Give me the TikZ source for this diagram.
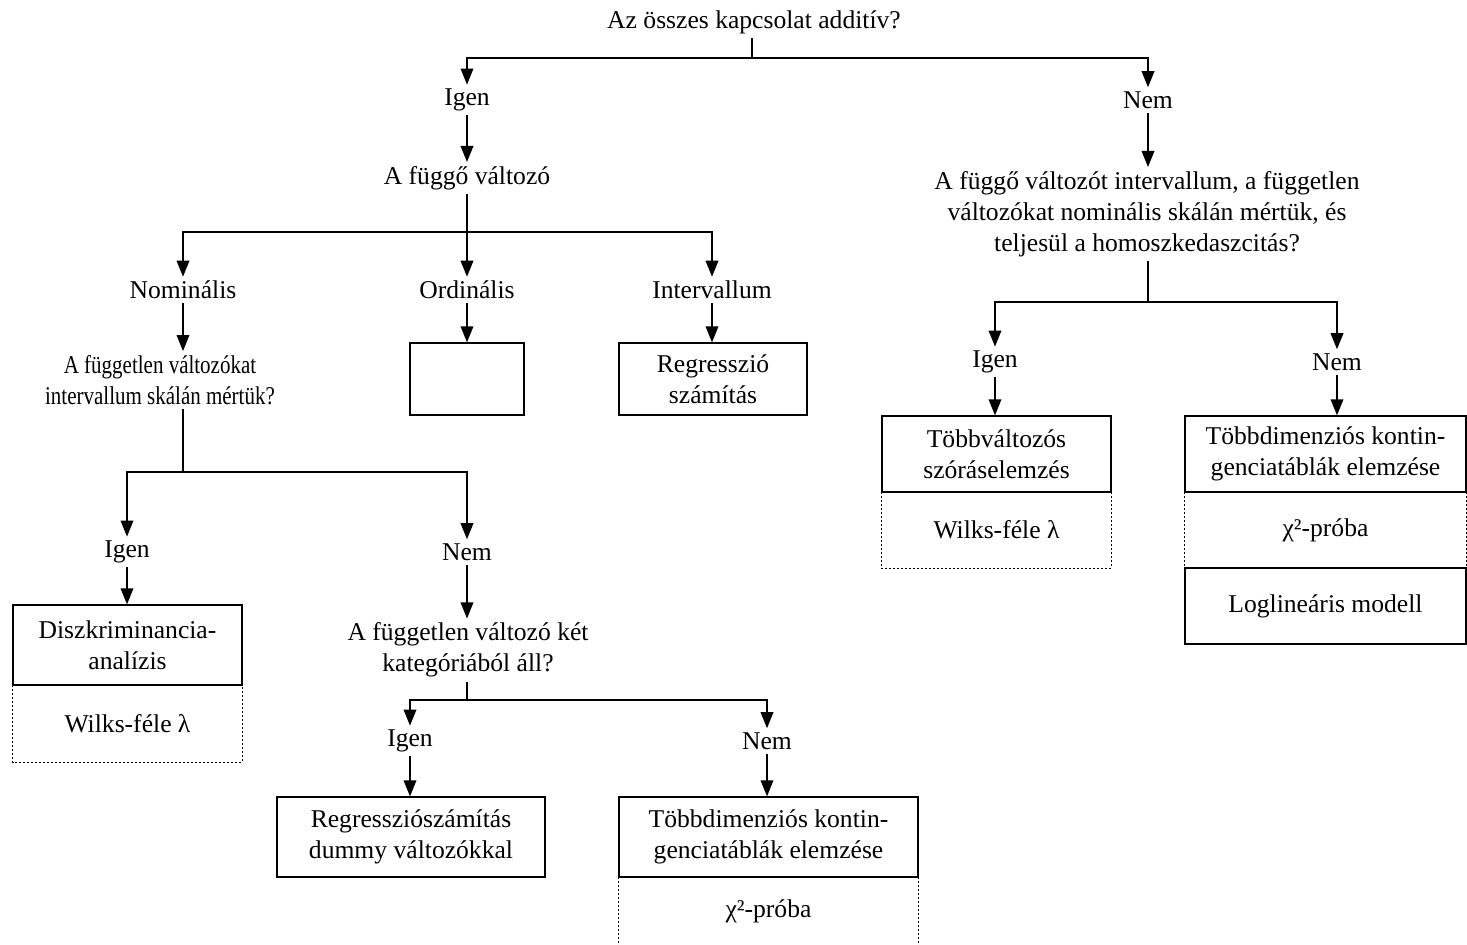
\documentclass[tikz,border=0pt]{standalone}
\usepackage{fontspec}
\setmainfont{Liberation Serif}
\usetikzlibrary{arrows.meta}
\begin{document}
\begin{tikzpicture}[x=0.75pt,y=-0.75pt,
  every node/.style={font=\fontsize{19.2pt}{23.25pt}\selectfont, align=center, inner sep=3pt},
  lbl/.style={},
  box/.style={draw, line width=1pt, minimum width=#1*0.75pt, inner sep=0pt},
  cell/.style={minimum width=#1*0.75pt, inner sep=0pt},
  conn/.style={line width=1pt},
  arr/.style={line width=1pt, -{Triangle[width=9.5pt,length=12pt]}},
  dots/.style={line width=0.9pt, dash pattern=on 1.4pt off 1.6pt}]
\useasboundingbox (0,0) rectangle (1467,945);

% --- junction points of the branching lines
\coordinate (j0) at (752,58);
\coordinate (j1) at (467,232);
\coordinate (j2) at (183,472);
\coordinate (j3) at (467,700);
\coordinate (j4) at (1148,302);

% --- questions and answers
\node[lbl] (q0)    at (754,22)  {Az összes kapcsolat additív?};
\node[lbl] (igen1) at (467,100) {Igen};
\node[lbl] (nem1)  at (1148,100) {Nem};
\node[lbl] (fv)    at (467,178) {A függő változó};
\node[lbl] (nom)   at (183,290) {Nominális};
\node[lbl] (ordl)  at (467,290) {Ordinális};
\node[lbl] (intv)  at (712,290) {Intervallum};
\node[lbl] (q1)    at (160,380) {\scalebox{0.82}[1]{A független változókat}\\\scalebox{0.82}[1]{intervallum skálán mértük?}};
\node[lbl] (igen2) at (127,552) {Igen};
\node[lbl] (nem2)  at (467,552) {Nem};
\node[lbl] (q2)    at (468,650) {A független változó két\\kategóriából áll?};
\node[lbl] (igen3) at (410,741) {Igen};
\node[lbl] (nem3)  at (767,741) {Nem};
\node[lbl] (q3)    at (1147,214) {A függő változót intervallum, a független\\változókat nominális skálán mértük, és\\teljesül a homoszkedaszcitás?};
\node[lbl] (igen4) at (995,362) {Igen};
\node[lbl] (nem4)  at (1337,362) {Nem};

% --- result boxes (dotted cells first, solid boxes on top)
\node[cell=229, minimum height=77*0.75pt] (wilks1) at (127.5,723.5) {Wilks-féle λ};
\node[cell=299, minimum height=68*0.75pt] (chi1) at (768.5,911) {χ²-próba};
\node[cell=229, minimum height=76*0.75pt] (wilks2) at (996.5,530) {Wilks-féle λ};
\node[cell=281, minimum height=76*0.75pt] (chi2) at (1325.5,530) {χ²-próba};

\draw[dots] (wilks1.north west) -- (wilks1.south west) -- (wilks1.south east) -- (wilks1.north east);
\draw[dots] (chi1.north west) -- ++(0,80);
\draw[dots] (chi1.north east) -- ++(0,80);
\draw[dots] (wilks2.north west) -- (wilks2.south west) -- (wilks2.south east) -- (wilks2.north east);
\draw[dots] (chi2.north west) -- (chi2.south west);
\draw[dots] (chi2.north east) -- (chi2.south east);

\node[box=114, minimum height=72*0.75pt] (ordbox) at (467,379) {};
\node[box=188, minimum height=72*0.75pt] (regr) at (713,379) {Regresszió\\számítás};
\node[box=229, minimum height=80*0.75pt] (disk) at (127.5,645) {Diszkriminancia-\\analízis};
\node[box=268, minimum height=80*0.75pt] (dummy) at (411,837) {Regressziószámítás\\dummy változókkal};
\node[box=299, minimum height=80*0.75pt] (tobbd1) at (768.5,837) {Többdimenziós kontin-\\genciatáblák elemzése};
\node[box=229, minimum height=76*0.75pt] (tobbv) at (996.5,454) {Többváltozós\\szóráselemzés};
\node[box=281, minimum height=76*0.75pt] (tobbd2) at (1325.5,454) {Többdimenziós kontin-\\genciatáblák elemzése};
\node[box=281, minimum height=76*0.75pt] (logl) at (1325.5,606) {Loglineáris modell};

% --- connectors
\draw[conn] (q0.south -| j0) -- (j0);
\draw[arr] (j0) -| (igen1.north);
\draw[arr] (j0) -| (nem1.north);
\draw[arr] (igen1.south) -- (fv.north);
\draw[arr] (fv.south) -- (ordl.north);
\draw[arr] (j1) -| (nom.north);
\draw[arr] (j1) -| (intv.north);
\draw[arr] (nom.south) -- (nom.south |- q1.north);
\draw[arr] (ordl.south) -- (ordbox.north);
\draw[arr] (intv.south) -- (intv.south |- regr.north);
\draw[conn] (j2 |- q1.south) -- (j2);
\draw[arr] (j2) -| (igen2.north);
\draw[arr] (j2) -| (nem2.north);
\draw[arr] (igen2.south) -- (igen2.south |- disk.north);
\draw[arr] (nem2.south) -- (nem2.south |- q2.north);
\draw[conn] (j3 |- q2.south) -- (j3);
\draw[arr] (j3) -| (igen3.north);
\draw[arr] (j3) -| (nem3.north);
\draw[arr] (igen3.south) -- (igen3.south |- dummy.north);
\draw[arr] (nem3.south) -- (nem3.south |- tobbd1.north);
\draw[arr] (nem1.south) -- (nem1.south |- q3.north);
\draw[conn] (j4 |- q3.south) -- (j4);
\draw[arr] (j4) -| (igen4.north);
\draw[arr] (j4) -| (nem4.north);
\draw[arr] (igen4.south) -- (igen4.south |- tobbv.north);
\draw[arr] (nem4.south) -- (nem4.south |- tobbd2.north);
\end{tikzpicture}
\end{document}
